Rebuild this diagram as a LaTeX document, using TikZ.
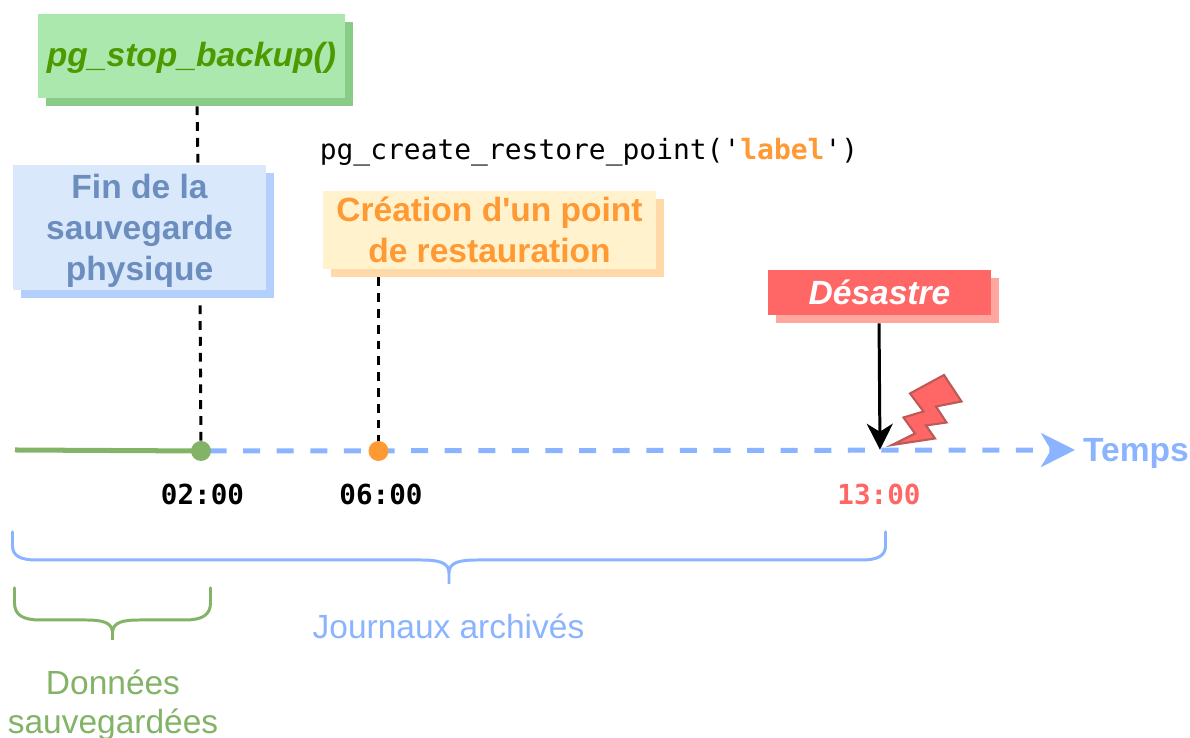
\documentclass[tikz,border=0pt]{standalone}
\usepackage{fontspec}
\setmainfont{Liberation Sans}[Ligatures=TeXOff]
\newfontfamily\timefont{DejaVu Sans Mono}
\usetikzlibrary{arrows.meta, shadows}
\definecolor{stopfill}{HTML}{ABE8AE}
\definecolor{stopshade}{HTML}{88CC88}
\definecolor{stoptext}{HTML}{4D9900}
\definecolor{finfill}{HTML}{DAE8FC}
\definecolor{finshade}{HTML}{B3CFFC}
\definecolor{fintext}{HTML}{6C8EBF}
\definecolor{restfill}{HTML}{FFF2CC}
\definecolor{restshade}{HTML}{FFD9A8}
\definecolor{resttext}{HTML}{FF9933}
\definecolor{disfill}{HTML}{FF6666}
\definecolor{disshade}{HTML}{FFA69E}
\definecolor{disedge}{HTML}{BC5A58}
\definecolor{axisblue}{HTML}{8AB4FF}
\definecolor{keptgreen}{HTML}{82B366}
\tikzset{
  card/.style={inner sep=0pt, align=center, font=\fontsize{19.1}{23.3}\selectfont\bfseries},
  link/.style={black, line width=1.7pt, dash pattern=on 5pt off 4pt},
  tick/.style={font=\fontsize{15.7}{18}\selectfont\timefont\bfseries},
  brace/.style={line width=1.7pt, line cap=round},
  mark dot/.style={circle, inner sep=0pt, minimum size=0.4cm}
}
\begin{document}
\begin{tikzpicture}[scale = 1]
\useasboundingbox (0, 0) rectangle (23.8, 14.76);
\node[card, fill=stopfill, text=stoptext, minimum width=6.14cm, minimum height=1.68cm, text height=0.53cm, text depth=0.1cm, drop shadow={shadow xshift=0.16cm, shadow yshift=-0.16cm, fill=stopshade, opacity=1}] (stop) at (3.83, 13.64){\itshape pg\_stop\_backup()};
\node[card, fill=finfill, text=fintext, minimum width=5.06cm, minimum height=2.5cm, drop shadow={shadow xshift=0.16cm, shadow yshift=-0.16cm, fill=finshade, opacity=1}] (fin) at (2.79, 10.21){\rule{0pt}{0.62cm}Fin de la\\sauvegarde\\physique};
\node[card, fill=restfill, text=resttext, minimum width=6.66cm, minimum height=1.56cm, drop shadow={shadow xshift=0.16cm, shadow yshift=-0.16cm, fill=restshade, opacity=1}] (rest) at (9.79, 10.16){Création d'un point\\de restauration};
\node[card, fill=disfill, text=white, minimum width=4.46cm, minimum height=0.9cm, drop shadow={shadow xshift=0.16cm, shadow yshift=-0.16cm, fill=disshade, opacity=1}] (dis) at (17.59, 8.91){\itshape Désastre};
\node[font=\fontsize{15.9}{18}\selectfont\timefont] (cmd) at (11.78, 11.72){pg\_create\_restore\_point('{\bfseries\color{resttext}label}')};

\coordinate (start) at (0.30, 5.76);
\coordinate (axisend) at (21.5, 5.76);
\node[inner sep=0pt] (now) at (17.6, 5.74){};
\node[inner sep=0pt, text=axisblue, font=\fontsize{19.1}{23}\selectfont\bfseries] (temps) at (22.72, 5.70){Temps};

% time axis
\draw[axisblue, line width=2.85pt, dash pattern=on 9.7pt off 9.42pt, dash phase=14.3pt, -{Stealth[length=0.68cm, width=0.68cm, inset=0.2cm]}] (4.02, 5.74) -- (axisend);
\draw[keptgreen, line width=2.85pt] (start) -- (4.02, 5.74);
\node[mark dot, fill=keptgreen] (tfin) at (4.02, 5.74){};
\node[mark dot, fill=resttext] (trest) at (7.57, 5.74){};

\draw[link, shorten <=0.16cm] (stop.south -| 3.94, 0) -- (fin.north -| 3.96, 0);
\draw[link, shorten <=0.30cm] (fin.south -| 4.00, 0) -- (tfin);
\draw[link, shorten <=0.16cm] (rest.south -| trest) -- (trest);
\draw[black, line width=1.7pt, shorten <=0.16cm, -{Stealth[length=0.52cm, width=0.52cm, inset=0.16cm]}] (dis.south -| 17.58, 0) -- (now);

\node[tick] (t1) at (4.05, 4.88){02:00};
\node[tick] (t2) at (7.62, 4.88){06:00};
\node[tick, text=disfill] (t3) at (17.58, 4.88){13:00};

% lightning
\draw[disedge, fill=disfill, line width=1.2pt, line join=miter] (17.84, 5.86) -- (18.70, 5.99) -- (18.52, 6.25) -- (18.93, 6.31) -- (18.72, 6.63) -- (19.23, 6.73) -- (18.88, 7.26) -- (18.20, 6.89) -- (18.47, 6.53) -- (18.07, 6.41) -- (18.30, 6.09) -- cycle;

% braces
\draw[axisblue, brace] (0.25, 4.12) -- (0.25, 3.84) .. controls (0.25, 3.64) and (0.42, 3.56) .. (0.72, 3.56) -- (8.40, 3.56) .. controls (8.76, 3.56) and (8.98, 3.52) .. (8.98, 3.30) -- (8.98, 3.08) -- (8.98, 3.30) .. controls (8.98, 3.52) and (9.20, 3.56) .. (9.56, 3.56) -- (17.24, 3.56) .. controls (17.54, 3.56) and (17.71, 3.64) .. (17.71, 3.84) -- (17.71, 4.12);
\draw[keptgreen, brace] (0.29, 3.00) -- (0.29, 2.70) .. controls (0.29, 2.46) and (0.46, 2.36) .. (0.80, 2.36) -- (1.70, 2.36) .. controls (2.04, 2.36) and (2.25, 2.32) .. (2.25, 2.10) -- (2.25, 1.96) -- (2.25, 2.10) .. controls (2.25, 2.32) and (2.46, 2.36) .. (2.80, 2.36) -- (3.70, 2.36) .. controls (4.04, 2.36) and (4.21, 2.46) .. (4.21, 2.70) -- (4.21, 3.00);

\node[inner sep=0pt, text=axisblue, font=\fontsize{19.05}{23}\selectfont] (jour) at (8.97, 2.24){Journaux archivés};
\node[inner sep=0pt, text=keptgreen, align=center, font=\fontsize{19.05}{22.2}\selectfont] (kept) at (2.26, 0.66){Données\\sauvegardées};
\end{tikzpicture}
\end{document}
